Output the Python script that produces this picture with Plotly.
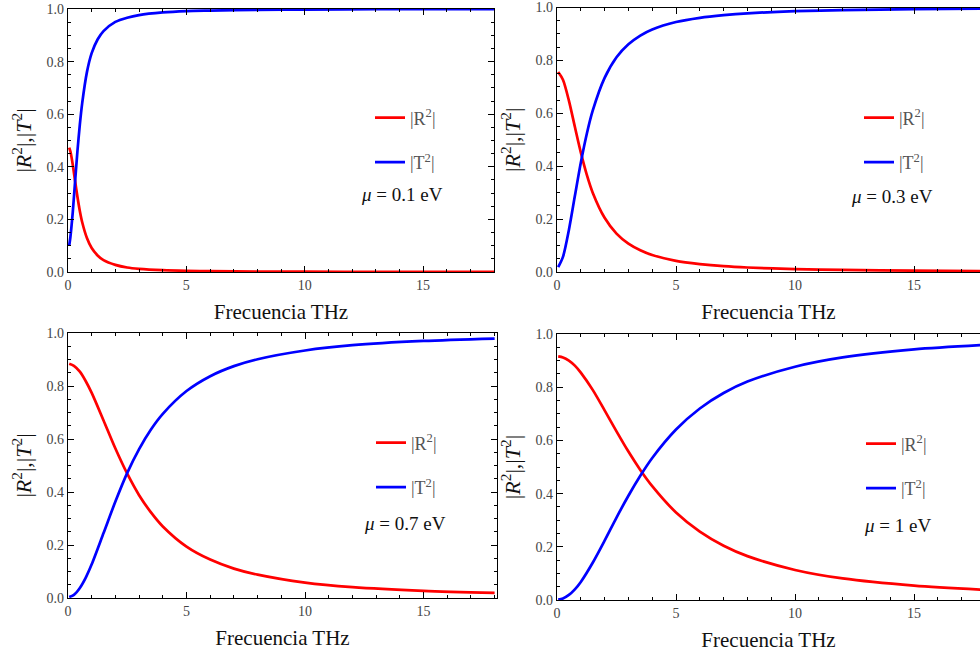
import plotly.graph_objects as go

# ---------------- data ----------------
x1 = [0.05, 0.1, 0.2, 0.3, 0.4, 0.5, 0.6, 0.8, 1.0, 1.25, 1.5, 2, 2.5, 3, 4, 5, 6, 8, 10, 13, 18]
R1 = [0.473, 0.459, 0.409, 0.346, 0.285, 0.232, 0.189, 0.129, 0.091, 0.063, 0.045, 0.027, 0.017,
      0.012, 0.007, 0.0045, 0.003, 0.0018, 0.0011, 0.0007, 0.0004]
T1 = [0.100, 0.132, 0.226, 0.345, 0.461, 0.560, 0.642, 0.760, 0.832, 0.884, 0.916, 0.951, 0.967,
      0.977, 0.987, 0.992, 0.994, 0.997, 0.998, 0.999, 0.999]

x2 = [0.05, 0.25, 0.5, 0.75, 1, 1.25, 1.5, 2, 2.5, 3, 3.5, 4, 5, 6, 7, 8, 10, 12, 15, 18]
R2 = [0.756, 0.727, 0.648, 0.549, 0.452, 0.368, 0.300, 0.205, 0.145, 0.107, 0.082, 0.064, 0.042,
      0.030, 0.022, 0.017, 0.011, 0.008, 0.005, 0.0034]
T2 = [0.018, 0.057, 0.159, 0.287, 0.413, 0.522, 0.610, 0.734, 0.812, 0.861, 0.894, 0.917, 0.945,
      0.961, 0.971, 0.978, 0.986, 0.990, 0.994, 0.996]

x3 = [0.05, 0.25, 0.5, 0.75, 1, 1.5, 2, 2.5, 3, 3.5, 4, 5, 6, 7, 8, 10, 12, 15, 18]
R3 = [0.884, 0.876, 0.854, 0.818, 0.774, 0.670, 0.564, 0.469, 0.388, 0.323, 0.270, 0.194, 0.145,
      0.111, 0.088, 0.058, 0.041, 0.027, 0.019]
T3 = [0.004, 0.012, 0.038, 0.077, 0.127, 0.245, 0.364, 0.472, 0.562, 0.636, 0.695, 0.781, 0.837,
      0.875, 0.901, 0.934, 0.954, 0.970, 0.979]

x4 = [0.05, 0.25, 0.5, 0.75, 1, 1.5, 2, 2.5, 3, 3.5, 4, 5, 6, 7, 8, 10, 12, 15, 18]
R4 = [0.916, 0.912, 0.900, 0.881, 0.855, 0.790, 0.713, 0.634, 0.558, 0.489, 0.428, 0.329, 0.257,
      0.204, 0.165, 0.113, 0.081, 0.054, 0.038]
T4 = [0.002, 0.006, 0.019, 0.040, 0.068, 0.140, 0.223, 0.310, 0.392, 0.467, 0.534, 0.641, 0.720,
      0.778, 0.821, 0.877, 0.912, 0.942, 0.959]

mu_labels = ["<i>μ</i> = 0.1 eV", "<i>μ</i> = 0.3 eV", "<i>μ</i> = 0.7 eV", "<i>μ</i> = 1 eV"]
name_R = "|R<sup>2</sup>|"
name_T = "|T<sup>2</sup>|"
x_title = "Frecuencia THz"
y_title = "|<i>R</i><sup>2</sup>|,|<i>T</i><sup>2</sup>|"
x_tick_step = 5
y_tick_step = 0.2

# ---------------- layout geometry ----------------
W, H = 980, 660
FONT = "Liberation Serif, Times New Roman, DejaVu Serif, serif"

# pixel boxes (left, right, top, bottom)
boxes = [(68, 494, 9, 272), (557, 980, 7.5, 272), (68, 497, 333, 598), (557, 980, 334, 600)]
xmax = [18.0, 17.77, 18.1, 17.77]
legend_px = [(370, 140), (859, 140), (371, 465), (861, 466)]
mu_px = [(402, 195), (892, 196), (405, 523), (897, 525)]

series = [(x1, R1, T1), (x2, R2, T2), (x3, R3, T3), (x4, R4, T4)]

fig = go.Figure()
legend_names = ["legend", "legend2", "legend3", "legend4"]

for i, (xs, rs, ts) in enumerate(series):
    ax = "" if i == 0 else str(i + 1)
    common = dict(xaxis="x" + ax, yaxis="y" + ax, mode="lines", line_shape="spline",
                  legend=legend_names[i], hoverinfo="skip")
    fig.add_trace(go.Scatter(x=xs, y=rs, name=name_R, legendgroup="r%d" % i,
                             line=dict(color="#ff0000", width=2.7, smoothing=0.8), **common))
    fig.add_trace(go.Scatter(x=xs, y=ts, name=name_T, legendgroup="t%d" % i,
                             line=dict(color="#0000ff", width=2.7, smoothing=0.8), **common))

layout = dict(width=W, height=H, margin=dict(l=0, r=0, t=0, b=0, autoexpand=False),
              paper_bgcolor="white", plot_bgcolor="white",
              font=dict(family=FONT, color="#222", size=14))

for i, (l, r, t, b) in enumerate(boxes):
    ax = "" if i == 0 else str(i + 1)
    right_panel = i in (1, 3)
    layout["xaxis" + ax] = dict(
        domain=[l / W, r / W], range=[0, xmax[i]], anchor="y" + ax, automargin=False,
        showline=True, linecolor="black", linewidth=1.3, mirror="allticks",
        ticks="inside", ticklen=6, tickwidth=1, tickcolor="black",
        tickmode="linear", tick0=0, dtick=x_tick_step,
        tickfont=dict(family=FONT, size=14, color="#444"),
        minor=dict(ticks="inside", ticklen=3, tickwidth=1, tickcolor="black", dtick=1, tick0=0,
                   showgrid=False),
        showgrid=False, zeroline=False, fixedrange=True,
        title=dict(text=x_title, font=dict(family=FONT, size=21, color="#111"), standoff=12),
    )
    layout["yaxis" + ax] = dict(
        domain=[1 - b / H, 1 - t / H], range=[0, 1], anchor="x" + ax, automargin=False,
        showline=True, linecolor="black", linewidth=1.3,
        mirror=False if right_panel else "allticks",
        ticks="inside", ticklen=6, tickwidth=1, tickcolor="black",
        tickmode="linear", tick0=0, dtick=y_tick_step, tickformat=".1f",
        tickfont=dict(family=FONT, size=14, color="#444"),
        minor=dict(ticks="inside", ticklen=3, tickwidth=1, tickcolor="black", dtick=0.05, tick0=0,
                   showgrid=False),
        showgrid=False, zeroline=False, fixedrange=True,
        title=dict(text=y_title, font=dict(family=FONT, size=22, color="#111"), standoff=8),
    )
    lx, ly = legend_px[i]
    layout[legend_names[i]] = dict(
        x=lx / W, y=1 - ly / H, xanchor="left", yanchor="middle",
        bgcolor="rgba(0,0,0,0)", borderwidth=0, tracegroupgap=18,
        font=dict(family=FONT, size=18, color="#555"), itemclick=False, itemdoubleclick=False,
    )

fig.update_layout(**layout)

for i, (mx, my) in enumerate(mu_px):
    fig.add_annotation(x=mx / W, y=1 - my / H, xref="paper", yref="paper", text=mu_labels[i],
                       showarrow=False, xanchor="center", yanchor="middle",
                       font=dict(family=FONT, size=19, color="#111"))

fig.write_html("out.html", config={"displayModeBar": False},
               post_script="document.body.style.margin='0';document.body.style.padding='0';")
